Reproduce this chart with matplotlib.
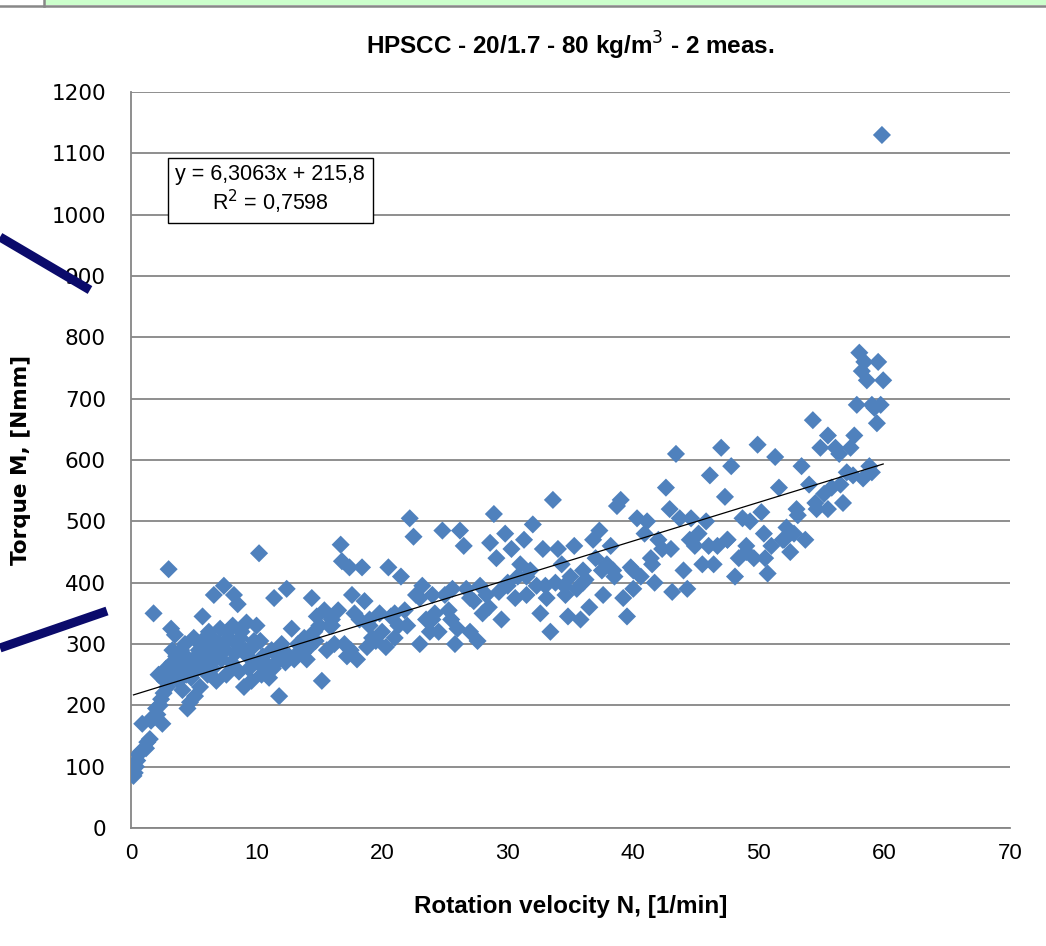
"""
plot.py
HPSCC torque vs rotation velocity scatter with linear trendline
"""

import numpy as np
import matplotlib
matplotlib.use('Agg')
import matplotlib.pyplot as plt
from matplotlib.lines import Line2D
from matplotlib.patches import Rectangle

# -------------------------------
# DATA
# -------------------------------

velocity = [
    0.2, 0.3, 0.4, 0.5, 0.6, 0.8, 0.9, 1.2, 1.3, 1.5, 1.6, 1.7, 1.8, 2.0, 2.1,
    2.2, 2.3, 2.4, 2.5, 2.6, 2.8, 2.9, 3.0, 3.1, 3.2, 3.3, 3.4, 3.5, 3.6, 3.8,
    3.9, 4.0, 4.1, 4.2, 4.3, 4.5, 4.6, 4.7, 4.8, 5.0, 5.1, 5.2, 5.3, 5.5, 5.6,
    5.7, 5.8, 6.0, 6.1, 6.2, 6.4, 6.5, 6.6, 6.7, 6.8, 7.0, 7.1, 7.2, 7.4, 7.5,
    7.6, 7.8, 8.0, 8.1, 8.2, 8.4, 8.5, 8.6, 8.8, 9.0, 9.1, 9.2, 9.4, 9.6, 9.8,
    10.0, 10.1, 10.2, 10.4, 10.5, 10.8, 11.0, 11.2, 11.4, 11.6, 11.8, 12.0, 12.2, 12.4, 12.6,
    12.8, 13.0, 13.3, 13.5, 13.8, 14.0, 14.2, 14.4, 14.6, 14.8, 15.0, 15.2, 15.4, 15.6, 15.8,
    16.0, 16.2, 16.5, 16.7, 16.8, 17.0, 17.2, 17.4, 17.6, 17.8, 18.0, 18.2, 18.4, 18.6, 18.8,
    19.0, 19.2, 19.5, 19.8, 20.0, 20.3, 20.5, 20.7, 21.0, 21.3, 21.5, 21.8, 22.0, 22.2, 22.5,
    22.7, 23.0, 23.2, 23.5, 23.8, 24.0, 24.2, 24.5, 24.8, 25.0, 25.3, 25.6, 25.8, 26.0, 26.2,
    26.5, 26.7, 27.0, 27.3, 27.6, 27.8, 28.0, 28.3, 28.6, 28.9, 29.1, 29.3, 29.5, 29.8, 30.0,
    30.3, 30.6, 30.8, 31.0, 31.3, 31.5, 31.8, 32.0, 32.3, 32.6, 32.8, 33.1, 33.4, 33.6, 33.8,
    34.0, 34.3, 34.6, 34.8, 35.0, 35.3, 35.5, 35.8, 36.0, 36.2, 36.5, 36.8, 37.0, 37.3, 37.6,
    37.9, 38.2, 38.4, 38.7, 39.0, 39.2, 39.5, 39.8, 40.0, 40.3, 40.6, 40.9, 41.1, 41.4, 41.7,
    42.0, 42.3, 42.6, 42.9, 43.1, 43.4, 43.7, 44.0, 44.3, 44.6, 44.9, 45.2, 45.5, 45.8, 46.1,
    46.4, 46.7, 47.0, 47.3, 47.5, 47.8, 48.1, 48.4, 48.7, 49.0, 49.3, 49.6, 49.9, 50.2, 50.4,
    50.7, 51.0, 51.3, 51.6, 51.9, 52.2, 52.5, 52.8, 53.1, 53.4, 53.7, 54.0, 54.3, 54.6, 54.9,
    55.2, 55.5, 55.8, 56.1, 56.4, 56.7, 57.0, 57.3, 57.6, 57.8, 58.0, 58.2, 58.4, 58.6, 58.8,
    59.0, 59.2, 59.4, 59.5, 59.7, 59.8, 59.9,
    # denser core of the cloud
    2.7, 3.3, 3.7, 4.4, 4.9, 5.4, 5.9, 6.3, 6.9, 7.3, 7.7, 8.3, 8.7, 9.3, 9.7,
    10.3, 10.7, 11.3, 12.3, 13.7, 14.7, 16.0, 17.5, 19.0, 21.0, 23.0, 24.0, 25.5, 27.0, 28.5,
    30.0, 31.5, 33.0, 34.5, 36.0, 37.5, 38.5, 40.0, 41.5, 43.0, 44.5, 46.0, 47.5, 49.0, 50.5,
    52.0, 53.0, 54.5, 55.5, 56.5, 57.5, 58.3, 59.0,
]

torque = [
    85, 90, 100, 110, 120, 125, 170, 130, 140, 145, 175, 180, 350, 195, 185,
    250, 200, 210, 170, 220, 260, 230, 422, 245, 325, 270, 255, 315, 280, 240,
    265, 290, 225, 260, 300, 195, 275, 205, 245, 310, 215, 280, 260, 230, 300,
    345, 270, 285, 250, 320, 290, 260, 380, 305, 240, 300, 325, 275, 395, 290,
    250, 310, 270, 330, 380, 300, 365, 255, 320, 230, 290, 335, 260, 240, 305,
    330, 270, 448, 250, 280, 255, 245, 290, 375, 270, 215, 300, 285, 390, 280,
    325, 275, 300, 290, 310, 275, 295, 375, 320, 345, 330, 240, 355, 290, 330,
    340, 300, 355, 462, 435, 300, 280, 425, 380, 350, 275, 340, 425, 370, 295,
    330, 310, 305, 350, 320, 295, 425, 345, 310, 330, 410, 355, 330, 505, 475,
    380, 300, 395, 340, 320, 380, 350, 320, 485, 380, 355, 390, 300, 325, 485,
    460, 390, 320, 370, 305, 395, 350, 380, 465, 512, 440, 385, 340, 480, 395,
    455, 375, 410, 430, 470, 380, 420, 495, 395, 350, 455, 375, 320, 535, 400,
    455, 430, 380, 345, 410, 460, 390, 340, 420, 405, 360, 470, 440, 485, 380,
    430, 460, 420, 525, 535, 375, 345, 425, 390, 505, 410, 480, 500, 440, 400,
    470, 455, 555, 520, 385, 610, 505, 420, 390, 505, 460, 480, 430, 500, 575,
    430, 460, 620, 540, 470, 590, 410, 440, 505, 460, 500, 440, 625, 515, 480,
    415, 460, 605, 555, 470, 490, 450, 480, 510, 590, 470, 560, 665, 520, 620,
    545, 640, 555, 620, 610, 530, 580, 620, 640, 690, 775, 745, 760, 730, 590,
    690, 685, 660, 760, 690, 1130, 730,
    240, 290, 270, 250, 265, 290, 310, 275, 280, 300, 320, 285, 310, 280, 295,
    305, 270, 260, 270, 285, 305, 330, 290, 340, 350, 375, 340, 340, 375, 360,
    400, 410, 395, 395, 400, 420, 410, 420, 430, 455, 470, 460, 470, 450, 440,
    470, 520, 530, 520, 560, 575, 570, 580,
]

# trendline as printed by the chart
slope = 6.3063
intercept = 215.8
eq_text = 'y = 6,3063x + 215,8\nR$^2$ = 0,7598'

TITLE = 'HPSCC - 20/1.7 - 80 kg/m$^3$ - 2 meas.'
XLABEL = 'Rotation velocity N, [1/min]'
YLABEL = 'Torque M, [Nmm]'

NARROW = ['Liberation Sans Narrow', 'Liberation Sans', 'DejaVu Sans']
BLUE = '#4F81BD'
GRID = '#868686'

# -------------------------------
# FIGURE
# -------------------------------

fig = plt.figure(figsize=(10.46, 9.46), dpi=100)
ax = fig.add_axes([0.1252, 0.1247, 0.8404, 0.778])

ax.set_xlim(0, 70)
ax.set_ylim(0, 1200)
ax.set_xticks(range(0, 71, 10))
ax.set_yticks(range(0, 1201, 100))

ax.grid(axis='y', color=GRID, linewidth=1.3)
ax.set_axisbelow(True)
for side in ['top', 'right']:
    ax.spines[side].set_visible(False)
for side in ['left', 'bottom']:
    ax.spines[side].set_color(GRID)
    ax.spines[side].set_linewidth(1.3)
ax.tick_params(axis='x', length=0, pad=11)
ax.tick_params(axis='y', length=0, pad=18)

for lab in ax.get_xticklabels():
    lab.set_family(NARROW)
    lab.set_fontsize(16)
for lab in ax.get_yticklabels():
    lab.set_family('DejaVu Sans')
    lab.set_fontsize(15.5)

ax.scatter(velocity, torque, marker='D', s=85, color=BLUE,
           edgecolors='none', zorder=3)

xs = np.array([min(velocity), max(velocity)])
ax.plot(xs, slope * xs + intercept, color='black', linewidth=0.9, zorder=4)

ax.text(11.1, 1040, eq_text, ha='center', va='center', fontsize=15.5,
        family=NARROW, linespacing=1.1, zorder=5,
        bbox=dict(boxstyle='square,pad=0.35', facecolor='white',
                  edgecolor='black', linewidth=1))

ax.set_title(TITLE, fontsize=17.5, fontweight='bold', family=NARROW, pad=27)
ax.set_xlabel(XLABEL, fontsize=17.5, fontweight='bold', family=NARROW, labelpad=22)
ax.set_ylabel(YLABEL, fontsize=15.5, fontweight='bold', family='DejaVu Sans',
              labelpad=15)

# screenshot leftovers: green toolbar strip and two navy strokes
fig.patches.append(Rectangle((45 / 1046, 1 - 5 / 946), 1, 5 / 946,
                             transform=fig.transFigure, facecolor='#CCFFCC',
                             edgecolor='none'))
fig.lines.append(Line2D([0, 1], [1 - 6 / 946] * 2, transform=fig.transFigure,
                        color='#888888', linewidth=1.8))
fig.lines.append(Line2D([44 / 1046] * 2, [1 - 6 / 946, 1], transform=fig.transFigure,
                        color='#888888', linewidth=1.8))
fig.lines.append(Line2D([0, 90 / 1046], [1 - 237 / 946, 1 - 290 / 946],
                        transform=fig.transFigure, color='#0B0B6B',
                        linewidth=6.5, solid_capstyle='butt'))
fig.lines.append(Line2D([0, 107 / 1046], [1 - 648 / 946, 1 - 611 / 946],
                        transform=fig.transFigure, color='#0B0B6B',
                        linewidth=6.5, solid_capstyle='butt'))

fig.savefig('out.png', dpi=100, facecolor='white')
